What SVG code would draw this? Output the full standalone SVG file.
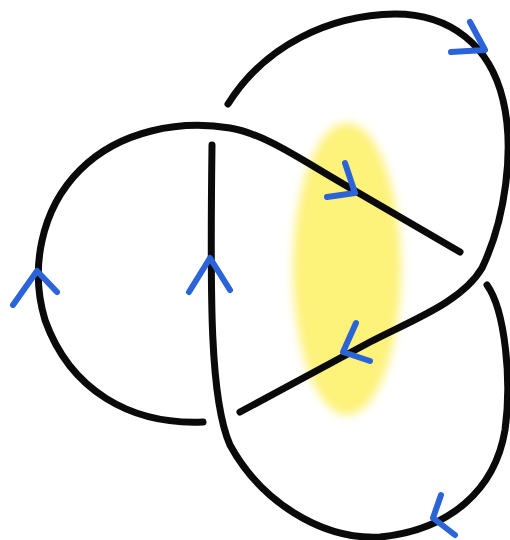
<svg xmlns="http://www.w3.org/2000/svg" width="510" height="540" viewBox="0 0 510 540">
  <style>
    .strand { fill: none; stroke: #0a0a0a; stroke-width: 7; stroke-linecap: round; stroke-linejoin: round; }
    .arrow { fill: none; stroke: #2b63d9; stroke-width: 6; stroke-linecap: round; stroke-linejoin: round; }
  </style>
  <defs>
    <filter id="soft" x="-30%" y="-30%" width="160%" height="160%">
      <feGaussianBlur stdDeviation="5"/>
    </filter>
  </defs>
  <rect width="510" height="540" fill="#ffffff"/>
  <ellipse id="highlight" cx="347" cy="269" rx="54" ry="146" fill="#fdf27a" filter="url(#soft)"/>
  <g id="strands">
    <path id="strand-a" class="strand" d="M228,104 C265,45 330,15 395,14 C450,14 490,45 503,100 C515,150 505,220 482,268 C462,302 412,320 370,342 L240,412"/>
    <path id="strand-b" class="strand" d="M203,422 C130,425 70,390 45,320 C30,270 40,210 80,170 C120,130 180,120 230,128 C265,134 300,159 345,185 L460,252"/>
    <path id="strand-c" class="strand" d="M487,285 C505,310 512,380 505,430 C495,490 450,530 380,537 C320,540 260,500 230,445 C210,400 210,300 212,145"/>
  </g>
  <g id="arrows">
    <path class="arrow" d="M470,22 L485,50 L451,52"/>
    <path class="arrow" d="M345,163 L355,193 L327,197"/>
    <path class="arrow" d="M13,305 L37,271 L57,292"/>
    <path class="arrow" d="M189,292 L210,258 L230,290"/>
    <path class="arrow" d="M356,323 L343,352 L370,361"/>
    <path class="arrow" d="M441,495 L433,518 L455,535"/>
  </g>
</svg>
